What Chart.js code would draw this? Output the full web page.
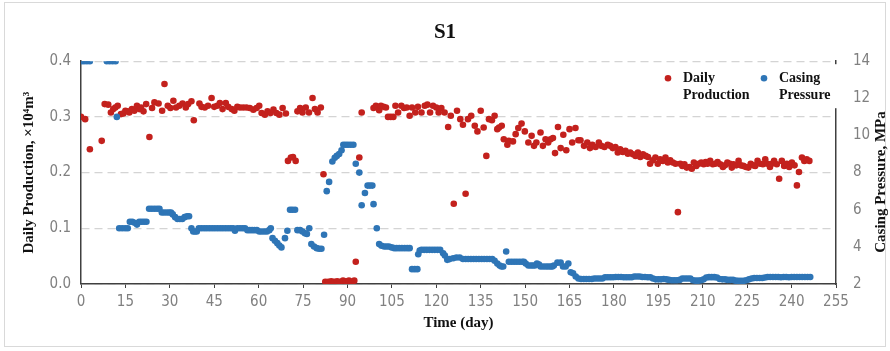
<!DOCTYPE html>
<html>
<head>
<meta charset="utf-8">
<script src="https://cdn.jsdelivr.net/npm/chart.js@4/dist/chart.umd.min.js"></script>
<style>
  html, body { margin: 0; padding: 0; background: #fff; }
  canvas { display: block; }
</style>
</head>
<body>
<canvas id="s1chart" width="890" height="351"></canvas>
<script>
// daily production, x10^4 m3 (left axis)
const prodDays = [
  0, 1.4, 3, 7, 8, 9.2, 10.1, 10.9, 11.6, 12.4,
  13.5, 14.3, 15, 15.8, 16.3, 17.2, 18, 18.9, 19.7, 20.3,
  21.1, 22, 23.1, 24, 24.8, 26.2, 27.4, 28.2, 29.3, 30.2,
  31.2, 32.1, 33.2, 34.3, 35.4, 36.2, 37.3, 38.1, 40, 40.7,
  41.8, 42.9, 44.1, 45, 46, 46.9, 47.8, 48.9, 49.7, 50.9,
  51.8, 52.8, 53.7, 54.8, 55.9, 57, 58.2, 59.3, 60.2, 61,
  62.1, 63, 64, 65, 66, 67, 68.1, 69.2, 69.9, 70.9,
  71.6, 72.5, 73.1, 74, 74.8, 75.9, 77, 78.2, 79, 79.9,
  81, 81.9, 82.5, 83.5, 84.5, 85.5, 86.5, 87.5, 88.5, 89.5,
  90.5, 91.5, 92.3, 92.8, 94, 94.8, 98.8, 99.6, 100.7, 101.3,
  102.2, 103, 103.7, 104.6, 105.5, 106.2, 107.1, 108.2, 109.1, 110,
  111, 111.8, 112.9, 113.8, 115, 116.1, 117, 117.9, 118.9, 120,
  120.8, 121.7, 122.8, 124, 124.9, 125.9, 127, 128.1, 129, 129.9,
  130.7, 131.8, 133, 133.9, 135, 136, 136.9, 137.8, 138.8, 139.7,
  140.6, 141.2, 142.1, 142.8, 144, 144.5, 145.9, 146.8, 147.7, 148.8,
  149.9, 151.1, 152.2, 153, 153.8, 155.2, 156, 156.9, 157.8, 158.6,
  159.4, 160.1, 161.1, 162, 162.9, 163.9, 165, 165.9, 167, 168,
  168.7, 169.9, 171, 171.9, 172.7, 173.8, 174.9, 175.7, 176.8, 177.9,
  178.7, 179.6, 180.5, 181.3, 182.1, 183, 183.9, 184.7, 185.5, 186.4,
  187.3, 188.1, 188.9, 189.8, 190.7, 191.5, 192.2, 193.1, 194, 194.8,
  195.6, 196.5, 197.4, 198.2, 199, 199.9, 200.8, 201.6, 202.4, 203.1,
  203.8, 204.6, 205.5, 206.3, 207, 207.8, 208.7, 209.5, 210.3, 211,
  211.6, 212.5, 213.4, 214.2, 215, 215.9, 216.8, 217.5, 218.3, 219.2,
  219.8, 220.4, 221.3, 222.1, 222.8, 223.7, 224.6, 225.4, 226.2, 227.1,
  227.7, 228.5, 229.4, 230.3, 231.1, 231.8, 232.7, 233.3, 234.1, 235,
  235.8, 236.7, 237.5, 238.4, 239.2, 240.1, 241, 241.8, 242.5, 243.5,
  244.3, 245.1, 246
];
const prodValues = [
  .300, .296, .242, .257, .323, .322, .308, .314, .317, .320,
  .305, .306, .311, .310, .308, .314, .311, .320, .314, .317,
  .310, .323, .264, .316, .326, .324, .311, .359, .320, .316,
  .329, .317, .320, .324, .317, .323, .328, .294, .324, .318,
  .317, .320, .334, .318, .320, .325, .314, .325, .318, .314,
  .311, .318, .317, .317, .317, .316, .313, .316, .320, .307,
  .304, .310, .307, .313, .307, .304, .316, .306, .221, .227,
  .228, .221, .310, .316, .308, .317, .308, .334, .314, .308,
  .317, .197, .004, .004, .005, .004, .005, .004, .006, .005,
  .006, .004, .006, .040, .227, .308, .316, .320, .312, .320,
  .318, .317, .300, .300, .300, .320, .308, .320, .316, .317,
  .302, .317, .308, .318, .308, .320, .322, .308, .320, .317,
  .308, .316, .308, .282, .302, .144, .311, .296, .286, .162,
  .296, .302, .284, .274, .311, .281, .230, .296, .294, .302,
  .278, .281, .284, .260, .250, .257, .256, .269, .280, .288,
  .274, .254, .266, .248, .254, .272, .248, .260, .254, .260,
  .262, .235, .282, .244, .268, .240, .278, .254, .280, .258,
  .258, .248, .254, .244, .250, .246, .254, .248, .246, .250,
  .248, .244, .246, .236, .242, .237, .239, .234, .236, .233,
  .230, .236, .228, .233, .230, .228, .216, .222, .227, .216,
  .224, .221, .227, .218, .222, .218, .216, .129, .216, .212,
  .215, .209, .210, .207, .218, .212, .216, .218, .215, .219,
  .216, .221, .215, .216, .219, .215, .210, .213, .218, .216,
  .209, .215, .213, .221, .213, .212, .210, .209, .216, .213,
  .212, .221, .216, .215, .224, .216, .210, .216, .221, .215,
  .189, .221, .212, .216, .210, .218, .213, .177, .201, .227,
  .221, .224, .221
];

// casing pressure, MPa (right axis)
const presDays = [
  0, 1, 2, 3, 8.7, 9.7, 10.7, 11.7, 12.1, 12.9,
  13.9, 14.9, 15.8, 16.5, 17.3, 18.1, 18.9, 19.7, 20.5, 21.3,
  22.1, 23, 23.9, 24.8, 25.7, 26.5, 27.3, 28.1, 29, 29.8,
  30.4, 31, 31.8, 32.6, 33.4, 34.2, 35, 35.8, 36.5, 37.3,
  37.9, 38.5, 39.1, 39.8, 40.7, 41.6, 42.5, 43.4, 44.3, 45.2,
  46.1, 47, 47.9, 48.8, 49.7, 50.6, 51.4, 52, 52.8, 53.7,
  54.6, 55.4, 56.2, 57, 57.8, 58.6, 59.4, 60.2, 61, 61.9,
  62.8, 63.6, 64.1, 64.7, 65.5, 66.3, 67, 67.7, 68.9, 69.7,
  70.6, 71.4, 72.3, 73.1, 74, 74.8, 75.6, 76.3, 77.1, 77.8,
  78.7, 79.6, 80.4, 81.2, 82.1, 83, 83.8, 84.9, 85.7, 86.4,
  87.2, 88, 88.6, 89.4, 90.2, 91.1, 92, 92.8, 94, 94.8,
  95.9, 96.8, 97.6, 98.4, 98.8, 99.9, 100.7, 101.5, 102.4, 103.2,
  104, 104.9, 105.8, 106.6, 107.5, 108.4, 109.3, 110.2, 111, 111.8,
  112.7, 113.6, 113.9, 114.4, 115, 115.9, 116.8, 117.7, 118.6, 119.5,
  120.4, 121.3, 122.3, 122.9, 123.7, 124.5, 125.7, 126.8, 127.9, 129,
  129.9, 130.8, 131.7, 132.6, 133.5, 134.4, 135.3, 136.2, 137.1, 138,
  138.9, 139.7, 140.6, 141.4, 142, 142.6, 143.6, 144.5, 145.4, 146.3,
  147.2, 148.1, 149, 149.6, 150.2, 151.1, 151.9, 152.6, 153.3, 154,
  154.7, 155.2, 156.1, 157, 157.8, 158.6, 159.2, 159.7, 160.9, 162,
  162.8, 163.7, 164.6, 165.4, 166.2, 167.1, 168, 168.9, 169.8, 170.7,
  171.6, 172.5, 173.4, 174.3, 175.2, 176.1, 177, 177.9, 178.8, 179.7,
  180.6, 181.5, 182.4, 183.3, 184.2, 185.1, 186, 186.9, 187.8, 188.7,
  189.6, 190.5, 191.4, 192.3, 193.2, 194.1, 195, 195.9, 196.8, 197.7,
  198.6, 199.5, 200.4, 201.3, 202.2, 203.1, 204, 204.9, 205.8, 206.7,
  207.6, 208.5, 209.4, 210.3, 211.2, 212.1, 213, 213.9, 214.8, 215.7,
  216.6, 217.5, 218.4, 219.3, 220.2, 221.1, 222, 222.9, 223.8, 224.7,
  225.6, 226.5, 227.4, 228.3, 229.2, 230.1, 231, 231.9, 232.8, 233.7,
  234.6, 235.5, 236.4, 237.3, 238.2, 239.1, 240, 240.9, 241.8, 242.7,
  243.6, 244.5, 245.4, 246.3
];
const presValues = [
  14, 14, 14, 14, 14, 14, 14, 14, 11.0, 5.0,
  5.0, 5.0, 5.0, 5.35, 5.35, 5.3, 5.2, 5.35, 5.35, 5.35,
  5.35, 6.05, 6.05, 6.05, 6.05, 6.05, 5.85, 5.85, 5.85, 5.85,
  5.85, 5.75, 5.6, 5.5, 5.5, 5.5, 5.6, 5.65, 5.65, 5.0,
  4.83, 4.83, 4.83, 5.0, 5.0, 5.0, 5.0, 5.0, 5.0, 5.0,
  5.0, 5.0, 5.0, 5.0, 5.0, 5.0, 5.0, 4.87, 5.0, 5.0,
  5.0, 5.0, 4.9, 4.9, 4.9, 4.9, 4.9, 4.83, 4.83, 4.83,
  4.83, 4.9, 5.0, 4.47, 4.33, 4.2, 4.07, 3.97, 4.47, 4.87,
  6.0, 6.0, 6.0, 4.9, 4.9, 4.83, 4.74, 4.69, 5.0, 4.15,
  4.02, 3.93, 3.9, 3.9, 4.65, 7.0, 7.5, 8.6, 8.8, 8.9,
  9.0, 9.2, 9.5, 9.5, 9.5, 9.5, 9.5, 8.48, 8.0, 6.24,
  6.9, 7.3, 7.3, 7.3, 6.3, 5.0, 4.15, 4.06, 4.02, 4.02,
  4.02, 3.97, 3.93, 3.93, 3.93, 3.93, 3.93, 3.93, 3.93, 2.8,
  2.8, 2.8, 3.6, 3.8, 3.84, 3.84, 3.84, 3.84, 3.84, 3.84,
  3.84, 3.84, 3.66, 3.53, 3.3, 3.34, 3.39, 3.43, 3.43, 3.35,
  3.35, 3.35, 3.35, 3.35, 3.35, 3.35, 3.35, 3.35, 3.35, 3.35,
  3.35, 3.25, 3.1, 3.0, 2.94, 2.94, 3.75, 3.2, 3.2, 3.2,
  3.2, 3.2, 3.2, 3.2, 3.1, 3.0, 3.0, 3.0, 3.0, 3.1,
  3.05, 2.94, 2.94, 2.94, 2.94, 2.94, 2.94, 3.0, 3.15, 3.15,
  2.94, 2.94, 3.1, 2.63, 2.58, 2.4, 2.3, 2.27, 2.27, 2.27,
  2.27, 2.27, 2.3, 2.3, 2.3, 2.3, 2.36, 2.36, 2.36, 2.36,
  2.38, 2.38, 2.38, 2.36, 2.36, 2.36, 2.36, 2.4, 2.4, 2.4,
  2.38, 2.38, 2.36, 2.36, 2.3, 2.25, 2.25, 2.25, 2.27, 2.25,
  2.22, 2.2, 2.2, 2.2, 2.22, 2.3, 2.3, 2.3, 2.3, 2.2,
  2.18, 2.18, 2.2, 2.25, 2.35, 2.37, 2.37, 2.37, 2.35, 2.27,
  2.25, 2.25, 2.22, 2.22, 2.22, 2.18, 2.17, 2.17, 2.17, 2.2,
  2.25, 2.3, 2.32, 2.32, 2.32, 2.32, 2.35, 2.38, 2.38, 2.38,
  2.38, 2.38, 2.36, 2.38, 2.38, 2.36, 2.38, 2.38, 2.38, 2.38,
  2.38, 2.38, 2.38, 2.38
];

const legendLines = {
  'Daily Production': ['Daily', 'Production'],
  'Casing Pressure': ['Casing', 'Pressure']
};

const RED = '#C3211D';
const BLUE = '#2E75B6';
const SERIF = '"Liberation Serif", "Times New Roman", "DejaVu Serif", serif';
const NARROW = '"Liberation Sans Narrow", "DejaVu Sans Condensed", "Liberation Sans", sans-serif';

const toPoints = (xs, ys) => xs.map((x, i) => ({ x: x, y: ys[i] }));

// white page + thin grey frame round the whole chart
const framePlugin = {
  id: 'frame',
  beforeDraw(chart) {
    const c = chart.ctx;
    c.save();
    c.fillStyle = '#fff';
    c.fillRect(0, 0, chart.width, chart.height);
    c.strokeStyle = '#d9d9d9';
    c.lineWidth = 1;
    c.strokeRect(4.5, 2.5, chart.width - 9, chart.height - 7);
    c.restore();
  }
};

// legend sits inside the plot, top right, and a right axis title read bottom-to-top
const extrasPlugin = {
  id: 'extras',
  afterDraw(chart) {
    const c = chart.ctx;
    const a = chart.chartArea;
    c.save();
    c.fillStyle = '#fff';
    c.fillRect(a.right - 182, a.top + 3, 186, 44);

    c.font = 'bold 14px ' + SERIF;
    c.textBaseline = 'middle';
    c.textAlign = 'left';
    const xs = [a.right - 168, a.right - 72];
    chart.data.datasets.forEach((ds, i) => {
      const x = xs[i], y = a.top + 17;
      c.fillStyle = ds.backgroundColor;
      c.beginPath();
      c.arc(x, y, 3.3, 0, Math.PI * 2);
      c.fill();
      c.fillStyle = '#111';
      const lines = legendLines[ds.label];
      c.fillText(lines[0], x + 15, y);
      c.fillText(lines[1], x + 15, y + 17);
    });

    c.translate(881, 182);
    c.rotate(-Math.PI / 2);
    c.textAlign = 'center';
    c.font = 'bold 15px ' + SERIF;
    c.fillStyle = '#111';
    c.fillText('Casing Pressure, MPa', 0, 0);
    c.restore();
  }
};

new Chart(document.getElementById('s1chart'), {
  type: 'scatter',
  data: {
    datasets: [
      {
        label: 'Daily Production',
        data: toPoints(prodDays, prodValues),
        yAxisID: 'y',
        backgroundColor: RED,
        borderColor: RED,
        pointRadius: 3.3,
        pointBorderWidth: 0,
        order: 2
      },
      {
        label: 'Casing Pressure',
        data: toPoints(presDays, presValues),
        yAxisID: 'y2',
        backgroundColor: BLUE,
        borderColor: BLUE,
        pointRadius: 3.3,
        pointBorderWidth: 0,
        order: 1
      }
    ]
  },
  options: {
    responsive: false,
    animation: false,
    layout: { padding: { left: 5, right: 5, top: 5, bottom: 5 } },
    plugins: {
      legend: { display: false },
      tooltip: { enabled: false },
      title: {
        display: true,
        text: 'S1',
        color: '#111',
        font: { family: SERIF, size: 21, weight: 'bold' },
        padding: { top: 15, bottom: 16 }
      }
    },
    scales: {
      x: {
        type: 'linear',
        min: 0,
        max: 255,
        afterFit: s => { s.height = 62; },
        ticks: {
          stepSize: 15,
          autoSkip: false,
          maxRotation: 0,
          padding: 5,
          color: '#808080',
          font: { family: NARROW, size: 15 }
        },
        grid: { drawOnChartArea: false, color: '#404040', tickLength: 4, lineWidth: 1 },
        border: { display: true, color: '#404040', width: 1.5 },
        title: {
          display: true,
          text: 'Time (day)',
          color: '#111',
          font: { family: SERIF, size: 15, weight: 'bold' },
          padding: { top: 0, bottom: 14 }
        }
      },
      y: {
        position: 'left',
        min: 0,
        max: 0.4,
        afterFit: s => { s.width = 76; },
        ticks: {
          stepSize: 0.1,
          padding: 10,
          color: '#808080',
          font: { family: NARROW, size: 15 },
          callback: v => v.toFixed(1)
        },
        grid: { color: '#d4d4d4', lineWidth: 1.2, drawTicks: false },
        border: { display: true, color: '#404040', width: 1.5, dash: [8, 5] },
        title: {
          display: true,
          text: 'Daily Production, ×10⁴m³',
          color: '#111',
          font: { family: SERIF, size: 15, weight: 'bold' },
          padding: { top: 15, bottom: 0 }
        }
      },
      y2: {
        position: 'right',
        min: 2,
        max: 14,
        afterFit: s => { s.width = 49; },
        ticks: {
          stepSize: 2,
          padding: 9,
          color: '#808080',
          font: { family: NARROW, size: 15 }
        },
        grid: { display: false, drawOnChartArea: false },
        border: { display: true, color: '#404040', width: 1.5 }
      }
    }
  },
  plugins: [framePlugin, extrasPlugin]
});
</script>
</body>
</html>
